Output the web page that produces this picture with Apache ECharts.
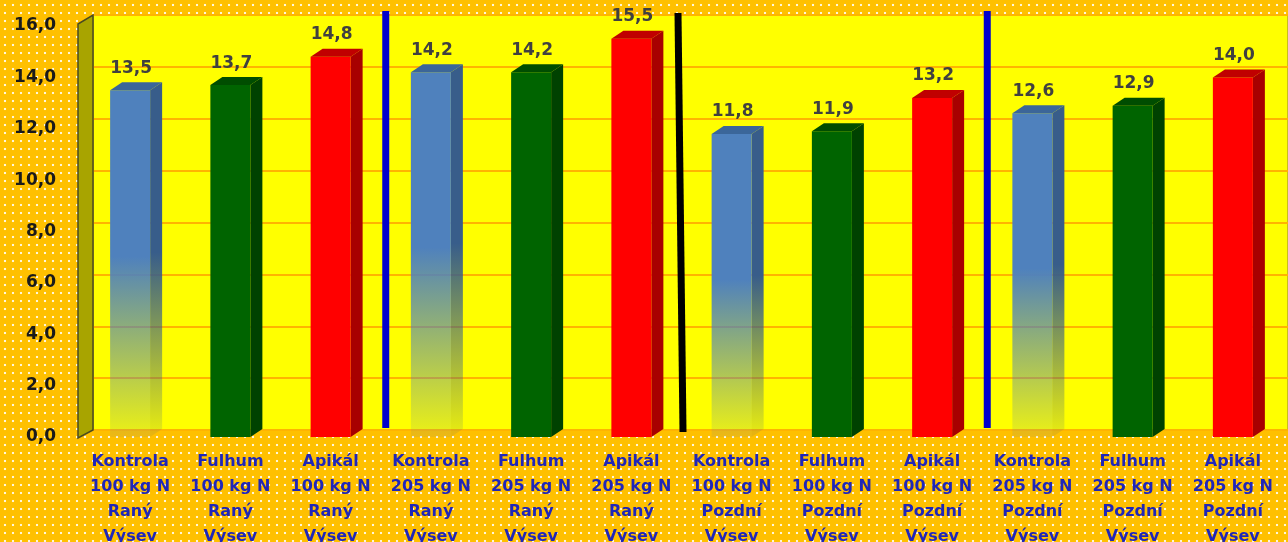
<!DOCTYPE html>
<html>
<head>
<meta charset="utf-8">
<script src="https://cdn.jsdelivr.net/npm/echarts@6/dist/echarts.min.js"></script>
<style>
  html, body {
    margin: 0;
    padding: 0;
  }
  body {
    background-color: #ffc000;
    background-image: radial-gradient(circle, rgba(255, 255, 255, 0.85) 1px, transparent 1.6px);
    background-size: 8px 8px;
    background-position: 1px 1px;
  }
  #chart {
    width: 1288px;
    height: 542px;
  }
</style>
</head>
<body>
<div id="chart"></div>
<script>
  // kategorie (osa X)
  var categories = [
    'Kontrola\n100 kg N\nRaný\nVýsev',
    'Fulhum\n100 kg N\nRaný\nVýsev',
    'Apikál\n100 kg N\nRaný\nVýsev',
    'Kontrola\n205 kg N\nRaný\nVýsev',
    'Fulhum\n205 kg N\nRaný\nVýsev',
    'Apikál\n205 kg N\nRaný\nVýsev',
    'Kontrola\n100 kg N\nPozdní\nVýsev',
    'Fulhum\n100 kg N\nPozdní\nVýsev',
    'Apikál\n100 kg N\nPozdní\nVýsev',
    'Kontrola\n205 kg N\nPozdní\nVýsev',
    'Fulhum\n205 kg N\nPozdní\nVýsev',
    'Apikál\n205 kg N\nPozdní\nVýsev'
  ];
  // hodnoty
  var values = [13.5, 13.7, 14.8, 14.2, 14.2, 15.5, 11.8, 11.9, 13.2, 12.6, 12.9, 14.0];
  // osa Y
  var yMin = 0;
  var yMax = 16;
  var yStep = 2;
  // oddělovací čáry mezi skupinami (za kategorií s tímto indexem)
  var separatorsAfter = [2, 5, 8];

  var fmt = function (v) {
    return Number(v).toFixed(1).replace('.', ',');
  };

  // barvy: kontrola / fulhum / apikál
  var palette = [
    { front: '#4f81bd', side: '#385d8a', top: '#3b6699', fade: true },
    { front: '#006400', side: '#004200', top: '#004d00', fade: false },
    { front: '#ff0000', side: '#a80000', top: '#c00000', fade: false }
  ];

  var fade = function (rgb) {
    return new echarts.graphic.LinearGradient(0, 0, 0, 1, [
      { offset: 0, color: 'rgba(' + rgb + ',1)' },
      { offset: 0.48, color: 'rgba(' + rgb + ',1)' },
      { offset: 1, color: 'rgba(' + rgb + ',0.1)' }
    ]);
  };

  var renderBar = function (params, api) {
    var idx = api.value(0);
    var top = api.coord([idx, api.value(1)]);
    var base = api.coord([idx, 0]);
    var c = top[0];
    var ty = top[1];
    var by = base[1];
    var hw = 20; // půlka šířky čela
    var dx = 12; // hloubka do strany
    var dy = 8; // hloubka nahoru
    var p = palette[idx % 3];
    var frontFill = p.fade ? fade('79,129,189') : p.front;
    var sideFill = p.fade ? fade('56,93,138') : p.side;
    return {
      type: 'group',
      children: [
        {
          type: 'polygon',
          shape: { points: [[c + hw, ty], [c + hw + dx, ty - dy], [c + hw + dx, by - dy], [c + hw, by]] },
          style: { fill: sideFill }
        },
        {
          type: 'rect',
          shape: { x: c - hw, y: ty, width: hw * 2, height: by - ty },
          style: { fill: frontFill }
        },
        {
          type: 'polygon',
          shape: { points: [[c - hw, ty], [c - hw + dx, ty - dy], [c + hw + dx, ty - dy], [c + hw, ty]] },
          style: { fill: p.top }
        },
        {
          type: 'text',
          x: c + 1,
          y: ty - 22,
          style: {
            text: fmt(api.value(1)),
            fill: '#404040',
            font: 'bold 17px "DejaVu Sans"',
            align: 'center',
            verticalAlign: 'middle'
          }
        }
      ]
    };
  };

  var chart = echarts.init(document.getElementById('chart'));
  chart.setOption({
    backgroundColor: 'transparent',
    animation: false,
    grid: [
      // přední rovina (sloupce, popisky)
      { left: 80, right: 5, top: 26, bottom: 105, outerBoundsMode: 'none', containLabel: false },
      // zadní stěna (žlutá)
      {
        left: 93, right: 0, top: 15, bottom: 112,
        outerBoundsMode: 'none', containLabel: false,
        show: true, backgroundColor: '#ffff00',
        borderColor: '#8c7f3a', borderWidth: 1
      }
    ],
    xAxis: [
      {
        type: 'category',
        gridIndex: 0,
        data: categories,
        axisLine: { show: false },
        axisTick: { show: false },
        axisLabel: {
          interval: 0,
          margin: 12,
          color: '#2026b8',
          fontFamily: 'DejaVu Sans',
          fontWeight: 'bold',
          fontSize: 16,
          lineHeight: 25,
          verticalAlign: 'top'
        }
      },
      {
        type: 'category',
        gridIndex: 1,
        data: categories,
        show: false
      }
    ],
    yAxis: [
      {
        type: 'value',
        gridIndex: 0,
        min: yMin,
        max: yMax,
        interval: yStep,
        axisLine: { show: false },
        axisTick: { show: false },
        splitLine: { show: false },
        axisLabel: {
          margin: 24,
          color: '#1a1a1a',
          fontFamily: 'DejaVu Sans',
          fontWeight: 'bold',
          fontSize: 17,
          formatter: fmt
        }
      },
      {
        type: 'value',
        gridIndex: 1,
        min: yMin,
        max: yMax,
        interval: yStep,
        axisLine: { show: false },
        axisTick: { show: false },
        axisLabel: { show: false },
        splitLine: { lineStyle: { color: '#ffb400', width: 2 } }
      }
    ],
    series: [
      {
        type: 'custom',
        xAxisIndex: 0,
        yAxisIndex: 0,
        clip: false,
        z: 5,
        renderItem: renderBar,
        data: values.map(function (v, i) {
          return [i, v];
        })
      }
    ]
  });

  // boční stěna a oddělovací čáry
  var half = (chart.convertToPixel({ xAxisIndex: 0 }, 1) - chart.convertToPixel({ xAxisIndex: 0 }, 0)) / 2;
  var lineColors = ['#0000cc', '#000000', '#0000cc'];
  var lineSlant = [0, 5, 0];
  var graphics = [
    {
      type: 'polygon',
      z: 1,
      shape: { points: [[78, 24], [93, 15], [93, 430], [78, 438]] },
      style: { fill: '#a8a400', stroke: '#4a4a20', lineWidth: 1.5 }
    }
  ];
  separatorsAfter.forEach(function (k, i) {
    var x = chart.convertToPixel({ xAxisIndex: 0 }, k) + half + (i === 1 ? -1 : 5);
    graphics.push({
      type: 'line',
      z: 10,
      shape: { x1: x - lineSlant[i] / 2, y1: i === 1 ? 13 : 11, x2: x + lineSlant[i] / 2, y2: i === 1 ? 432 : 428 },
      style: { stroke: lineColors[i], lineWidth: 7 }
    });
  });
  chart.setOption({ graphic: graphics });
</script>
</body>
</html>
